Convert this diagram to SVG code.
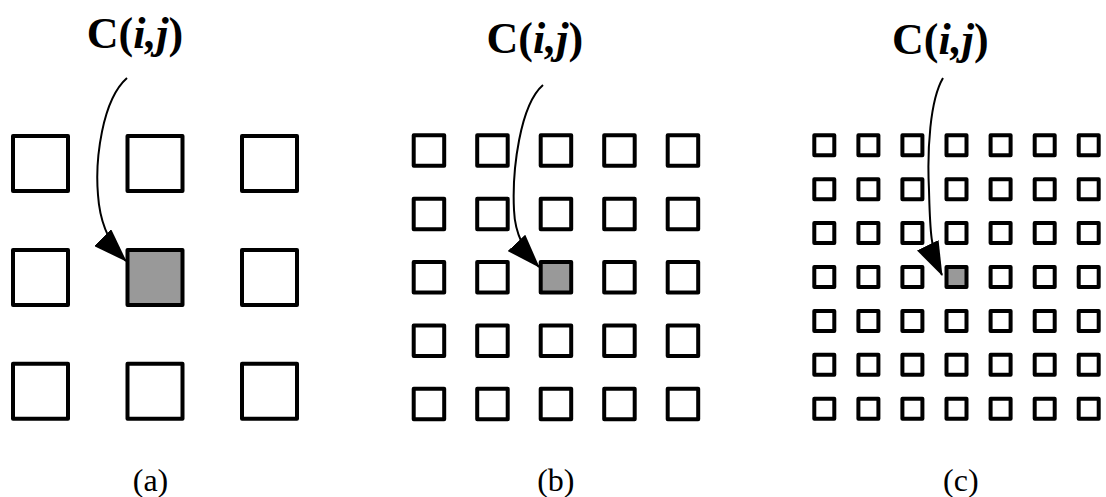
<svg xmlns="http://www.w3.org/2000/svg" width="1106" height="497" viewBox="0 0 1106 497">
<style>
.cell{fill:#fff;stroke:#000;stroke-width:4;stroke-linejoin:round}
.sel{fill:#999;stroke:#000;stroke-width:4;stroke-linejoin:round}
.lbl{font-family:"Liberation Serif","Times New Roman",serif;font-weight:bold;font-size:44px;fill:#000}
.it{font-style:italic}
.cap{font-family:"Liberation Serif","Times New Roman",serif;font-size:32px;fill:#000;text-anchor:middle}
.arr{fill:none;stroke:#000;stroke-width:2}
</style>
<defs>
<marker id="ah" markerUnits="userSpaceOnUse" markerWidth="34" markerHeight="24" refX="33" refY="12" orient="auto" viewBox="0 0 34 24">
<path d="M0,0 L34,12 L0,24 z" fill="#000"/>
</marker>
</defs>
<rect width="1106" height="497" fill="#fff"/>
<g id="panel-a">
<rect id="a-0-0" class="cell" x="13" y="136" width="55" height="55"/>
<rect id="a-0-1" class="cell" x="127.5" y="136" width="55" height="55"/>
<rect id="a-0-2" class="cell" x="242" y="136" width="55" height="55"/>
<rect id="a-1-0" class="cell" x="13" y="249.9" width="55" height="55"/>
<rect id="a-1-1" class="sel" x="127.5" y="249.9" width="55" height="55"/>
<rect id="a-1-2" class="cell" x="242" y="249.9" width="55" height="55"/>
<rect id="a-2-0" class="cell" x="13" y="363.7" width="55" height="55"/>
<rect id="a-2-1" class="cell" x="127.5" y="363.7" width="55" height="55"/>
<rect id="a-2-2" class="cell" x="242" y="363.7" width="55" height="55"/>
</g>
<g id="panel-b">
<rect class="cell" x="413.7" y="135.3" width="30.5" height="30.5"/>
<rect class="cell" x="477.2" y="135.3" width="30.5" height="30.5"/>
<rect class="cell" x="540.7" y="135.3" width="30.5" height="30.5"/>
<rect class="cell" x="604.2" y="135.3" width="30.5" height="30.5"/>
<rect class="cell" x="667.7" y="135.3" width="30.5" height="30.5"/>
<rect class="cell" x="413.7" y="198.7" width="30.5" height="30.5"/>
<rect class="cell" x="477.2" y="198.7" width="30.5" height="30.5"/>
<rect class="cell" x="540.7" y="198.7" width="30.5" height="30.5"/>
<rect class="cell" x="604.2" y="198.7" width="30.5" height="30.5"/>
<rect class="cell" x="667.7" y="198.7" width="30.5" height="30.5"/>
<rect class="cell" x="413.7" y="262" width="30.5" height="30.5"/>
<rect class="cell" x="477.2" y="262" width="30.5" height="30.5"/>
<rect id="b-sel" class="sel" x="540.7" y="262" width="30.5" height="30.5"/>
<rect class="cell" x="604.2" y="262" width="30.5" height="30.5"/>
<rect class="cell" x="667.7" y="262" width="30.5" height="30.5"/>
<rect class="cell" x="413.7" y="325.4" width="30.5" height="30.5"/>
<rect class="cell" x="477.2" y="325.4" width="30.5" height="30.5"/>
<rect class="cell" x="540.7" y="325.4" width="30.5" height="30.5"/>
<rect class="cell" x="604.2" y="325.4" width="30.5" height="30.5"/>
<rect class="cell" x="667.7" y="325.4" width="30.5" height="30.5"/>
<rect class="cell" x="413.7" y="388.7" width="30.5" height="30.5"/>
<rect class="cell" x="477.2" y="388.7" width="30.5" height="30.5"/>
<rect class="cell" x="540.7" y="388.7" width="30.5" height="30.5"/>
<rect class="cell" x="604.2" y="388.7" width="30.5" height="30.5"/>
<rect class="cell" x="667.7" y="388.7" width="30.5" height="30.5"/>
</g>
<g id="panel-c">
<rect class="cell" x="814.3" y="135.3" width="20" height="20"/>
<rect class="cell" x="858.4" y="135.3" width="20" height="20"/>
<rect class="cell" x="902.4" y="135.3" width="20" height="20"/>
<rect class="cell" x="946.5" y="135.3" width="20" height="20"/>
<rect class="cell" x="990.6" y="135.3" width="20" height="20"/>
<rect class="cell" x="1034.7" y="135.3" width="20" height="20"/>
<rect class="cell" x="1078.7" y="135.3" width="20" height="20"/>
<rect class="cell" x="814.3" y="179.2" width="20" height="20"/>
<rect class="cell" x="858.4" y="179.2" width="20" height="20"/>
<rect class="cell" x="902.4" y="179.2" width="20" height="20"/>
<rect class="cell" x="946.5" y="179.2" width="20" height="20"/>
<rect class="cell" x="990.6" y="179.2" width="20" height="20"/>
<rect class="cell" x="1034.7" y="179.2" width="20" height="20"/>
<rect class="cell" x="1078.7" y="179.2" width="20" height="20"/>
<rect class="cell" x="814.3" y="223.1" width="20" height="20"/>
<rect class="cell" x="858.4" y="223.1" width="20" height="20"/>
<rect class="cell" x="902.4" y="223.1" width="20" height="20"/>
<rect class="cell" x="946.5" y="223.1" width="20" height="20"/>
<rect class="cell" x="990.6" y="223.1" width="20" height="20"/>
<rect class="cell" x="1034.7" y="223.1" width="20" height="20"/>
<rect class="cell" x="1078.7" y="223.1" width="20" height="20"/>
<rect class="cell" x="814.3" y="267" width="20" height="20"/>
<rect class="cell" x="858.4" y="267" width="20" height="20"/>
<rect class="cell" x="902.4" y="267" width="20" height="20"/>
<rect id="c-sel" class="sel" x="946.5" y="267" width="20" height="20"/>
<rect class="cell" x="990.6" y="267" width="20" height="20"/>
<rect class="cell" x="1034.7" y="267" width="20" height="20"/>
<rect class="cell" x="1078.7" y="267" width="20" height="20"/>
<rect class="cell" x="814.3" y="310.9" width="20" height="20"/>
<rect class="cell" x="858.4" y="310.9" width="20" height="20"/>
<rect class="cell" x="902.4" y="310.9" width="20" height="20"/>
<rect class="cell" x="946.5" y="310.9" width="20" height="20"/>
<rect class="cell" x="990.6" y="310.9" width="20" height="20"/>
<rect class="cell" x="1034.7" y="310.9" width="20" height="20"/>
<rect class="cell" x="1078.7" y="310.9" width="20" height="20"/>
<rect class="cell" x="814.3" y="354.8" width="20" height="20"/>
<rect class="cell" x="858.4" y="354.8" width="20" height="20"/>
<rect class="cell" x="902.4" y="354.8" width="20" height="20"/>
<rect class="cell" x="946.5" y="354.8" width="20" height="20"/>
<rect class="cell" x="990.6" y="354.8" width="20" height="20"/>
<rect class="cell" x="1034.7" y="354.8" width="20" height="20"/>
<rect class="cell" x="1078.7" y="354.8" width="20" height="20"/>
<rect class="cell" x="814.3" y="398.7" width="20" height="20"/>
<rect class="cell" x="858.4" y="398.7" width="20" height="20"/>
<rect class="cell" x="902.4" y="398.7" width="20" height="20"/>
<rect class="cell" x="946.5" y="398.7" width="20" height="20"/>
<rect class="cell" x="990.6" y="398.7" width="20" height="20"/>
<rect class="cell" x="1034.7" y="398.7" width="20" height="20"/>
<rect class="cell" x="1078.7" y="398.7" width="20" height="20"/>
</g>
<g id="connectors">
<path class="arr" marker-end="url(#ah)" d="M127,78 C102,100 95,160 98,195 C100,225 110,245 126,261"/>
<path class="arr" marker-end="url(#ah)" d="M543,85 C520,105 512,170 514,210 C515,235 525,252 539,267"/>
<path class="arr" marker-end="url(#ah)" d="M943,78 C930,100 927,150 929,190 C930,225 930,250 942,275"/>
</g>
<g id="labels">
<text class="lbl" x="86.7" y="47.5">C(<tspan class="it">i,j</tspan>)</text>
<text class="lbl" x="486.5" y="53">C(<tspan class="it">i,j</tspan>)</text>
<text class="lbl" x="892" y="54">C(<tspan class="it">i,j</tspan>)</text>
<text class="cap" x="150.5" y="491">(a)</text>
<text class="cap" x="555.8" y="491">(b)</text>
<text class="cap" x="960.8" y="491">(c)</text>
</g>
</svg>
